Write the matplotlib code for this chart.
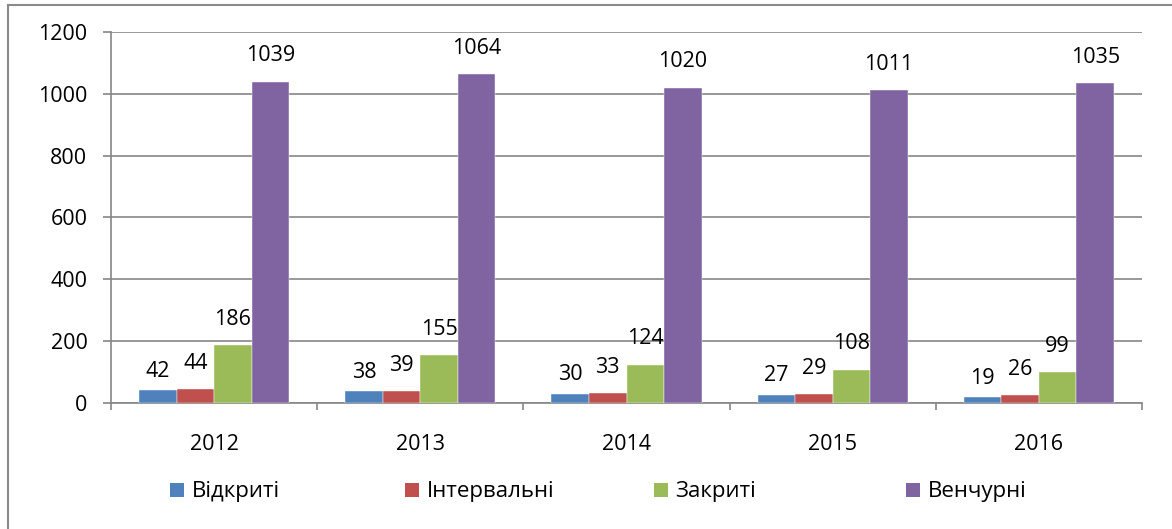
import matplotlib
matplotlib.use("Agg")
import matplotlib.pyplot as plt
from matplotlib.patches import Rectangle, Patch
import numpy as np

years = ["2012", "2013", "2014", "2015", "2016"]
series_names = ["Відкриті", "Інтервальні", "Закриті", "Венчурні"]
vidkryti = [42, 38, 30, 27, 19]
intervalni = [44, 39, 33, 29, 26]
zakryti = [186, 155, 124, 108, 99]
venchurni = [1039, 1064, 1020, 1011, 1035]
yticks = [0, 200, 400, 600, 800, 1000, 1200]

values = [vidkryti, intervalni, zakryti, venchurni]
colors = ["#4F81BD", "#C0504D", "#9BBB59", "#8064A2"]

plt.rcParams['font.family'] = ['Open Sans', 'DejaVu Sans']
FS = 15.5

W, H = 1172, 529
fig = plt.figure(figsize=(W / 100, H / 100), dpi=100)
ax = fig.add_axes([111 / W, 1 - 403 / H, (1142 - 111) / W, (403 - 32) / H])

n = len(years)
x = np.arange(n)
bw = 0.182
offsets = [-1.5, -0.5, 0.5, 1.5]
label_off = [6, 11, 11, 11]
for i, (vals, c) in enumerate(zip(values, colors)):
    bars = ax.bar(x + offsets[i] * bw, vals, width=bw, color=c, zorder=3,
                  edgecolor='white', linewidth=0.3)
    for b, v in zip(bars, vals):
        ax.annotate(str(v), (b.get_x() + b.get_width() / 2, b.get_height()),
                    xytext=(0, label_off[i]), textcoords='offset points',
                    ha='center', va='bottom', fontsize=FS, color='black')

ax.set_xlim(-0.5, n - 0.5)
ax.set_ylim(0, 1200)
ax.set_yticks(yticks)
ax.set_yticklabels([str(t) for t in yticks])
ax.set_xticks(x)
ax.set_xticklabels(years)
ax.set_xticks(np.arange(-0.5, n, 1.0), minor=True)

gray = "#868686"
ax.grid(axis='y', color=gray, linewidth=1.2, zorder=0)
for s in ['top', 'right']:
    ax.spines[s].set_visible(False)
for s in ['left', 'bottom']:
    ax.spines[s].set_color(gray)
    ax.spines[s].set_linewidth(1.2)

ax.tick_params(axis='y', length=6, width=1.2, color=gray, pad=11, labelsize=FS)
ax.tick_params(axis='x', which='major', length=0, pad=22, labelsize=FS)
ax.tick_params(axis='x', which='minor', length=5, width=1.2, color=gray)

# legend entries
leg_x = [171, 406, 655, 907]
for i, name in enumerate(series_names):
    h = Patch(facecolor=colors[i], edgecolor='none')
    fig.legend(handles=[h], labels=[name], loc='center left',
               bbox_to_anchor=((leg_x[i] - 5) / W, 1 - 492 / H),
               frameon=False, fontsize=FS + 0.5, handlelength=0.6,
               handleheight=0.6, handletextpad=0.35, borderaxespad=0,
               borderpad=0.2)

fig.patches.append(Rectangle((8 / W, -20 / H), (1200 - 8) / W, (524 + 20) / H,
                             transform=fig.transFigure, fill=False,
                             edgecolor="#8a8a8a", linewidth=1.5))

fig.savefig("out.png", dpi=100)
